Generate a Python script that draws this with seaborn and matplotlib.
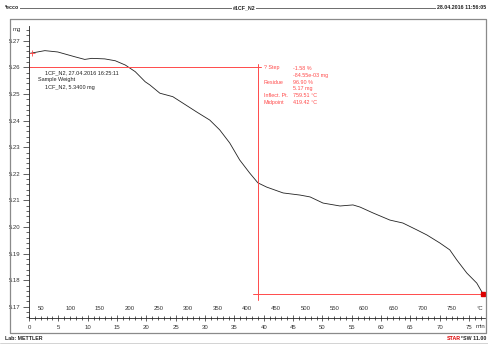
import matplotlib
matplotlib.use("Agg")
import matplotlib.pyplot as plt
import matplotlib.transforms as mtrans
from matplotlib.ticker import MultipleLocator, FormatStrFormatter
from matplotlib.lines import Line2D
import seaborn as sns
import pandas as pd

# ---- data ----
time_min = [0.2, 2.7, 4.9, 7.8, 9.5, 10.7, 12.9, 14.7, 16.4, 18.1, 19.8, 20.6,
            22.3, 24.5, 26.2, 28.6, 30.8, 32.5, 34.2, 35.9, 37.6, 39.0, 40.5,
            43.3, 46.2, 47.9, 50.1, 53.0, 55.2, 56.4, 58.6, 61.5, 63.7, 66.1,
            67.8, 70.0, 71.7, 72.9, 74.6, 76.3, 77.4]
mass_mg = [5.2653, 5.2663, 5.2658, 5.2640, 5.2630, 5.2634, 5.2632, 5.2625,
           5.2609, 5.2584, 5.2546, 5.2534, 5.2503, 5.2490, 5.2466, 5.2432,
           5.2402, 5.2365, 5.2316, 5.2252, 5.2203, 5.2166, 5.2150, 5.2128,
           5.2120, 5.2113, 5.2090, 5.2079, 5.2083, 5.2075, 5.2053, 5.2026,
           5.2015, 5.1989, 5.1970, 5.1940, 5.1914, 5.1876, 5.1827, 5.1789,
           5.1747]
temp_ticks_c = [50, 100, 150, 200, 250, 300, 350, 400, 450, 500, 550, 600,
                650, 700, 750]
time_ticks_min = [0, 5, 10, 15, 20, 25, 30, 35, 40, 45, 50, 55, 60, 65, 70, 75]
step_level_upper = 5.2601
step_level_lower = 5.1747
midpoint_c = 419.42
start_temp_c = 29.0
heating_rate = 10.0  # K/min

result_labels = ["? Step", "", "Residue", "", "Inflect. Pt.", "Midpoint"]
result_values = ["-1.58 %", "-84.55e-03 mg", "96.90 %", "5.17 mg",
                 "759.51 °C", "419.42 °C"]
info_lines = ["1CF_N2, 27.04.2016 16:25:11", "Sample Weight", "1CF_N2, 5.3400 mg"]

df = pd.DataFrame({"time": time_min, "mass": mass_mg})

# ---- figure ----
sns.set_theme(style="white")
plt.rcParams["font.family"] = ["Liberation Sans", "DejaVu Sans"]
W, H = 488, 344
fig = plt.figure(figsize=(W / 100, H / 100), dpi=100)
fig.patch.set_facecolor("white")

def fx(px):
    return px / W

def fy(py):
    return 1 - py / H

ax = fig.add_axes([fx(29), fy(318), fx(485) - fx(29), fy(26) - fy(318)])
ax.set_facecolor("none")

sns.lineplot(data=df, x="time", y="mass", ax=ax, color="#222222", lw=0.6,
             estimator=None, sort=False)

ax.set_xlim(0, 77.7)
ax.set_ylim(5.27 - (318 - 40.8) / 2660, 5.27 + (40.8 - 26) / 2660)
ax.set_xlabel("")
ax.set_ylabel("")

for s in ["top", "right"]:
    ax.spines[s].set_visible(False)
for s in ["left", "bottom"]:
    ax.spines[s].set_color("#222222")
    ax.spines[s].set_linewidth(0.6)

fs = 4.3
tc = "#333333"
ax.yaxis.set_major_locator(MultipleLocator(0.01))
ax.yaxis.set_minor_locator(MultipleLocator(0.002))
ax.yaxis.set_major_formatter(FormatStrFormatter("%.2f"))
ax.tick_params(axis="y", which="major", direction="out", length=4.5, width=0.5,
               pad=1.5, labelsize=fs, colors="#222222", labelcolor=tc, left=True)
ax.tick_params(axis="y", which="minor", direction="out", length=2, width=0.5,
               colors="#222222", left=True)

ax.set_xticks(time_ticks_min)
ax.set_xticklabels([str(t) for t in time_ticks_min])
ax.xaxis.set_minor_locator(MultipleLocator(1))
ax.tick_params(axis="x", which="major", direction="inout", length=4, width=0.5,
               pad=3, labelsize=fs, colors="#222222", labelcolor=tc, bottom=True)
ax.tick_params(axis="x", which="minor", direction="inout", length=3, width=0.5,
               colors="#222222", bottom=True)

# temperature labels inside the plot, above the axis
blend = mtrans.blended_transform_factory(ax.transData, ax.transAxes)
for T in temp_ticks_c:
    ax.text((T - start_temp_c) / heating_rate, 0.031, str(T), transform=blend,
            ha="center", va="center", fontsize=fs, color=tc)
fig.text(fx(480), fy(309), "°C", ha="center", va="center", fontsize=fs, color=tc)
fig.text(fx(475.5), fy(326.5), "min", ha="left", va="center", fontsize=fs, color=tc)
fig.text(fx(17), fy(30), "mg", ha="center", va="center", fontsize=fs, color=tc)

# red evaluation lines
red = "#ff4a4a"
t_mid = (midpoint_c - start_temp_c) / heating_rate
ax.plot([0, 39.6], [step_level_upper] * 2, color=red, lw=0.7)
ax.plot([t_mid, t_mid], [5.2613, 5.1726], color=red, lw=0.7)
ax.plot([38.2, 77.4], [step_level_lower] * 2, color=red, lw=0.7)
ax.plot([77.4], [step_level_lower], marker="s", ms=2.2, color="#dd0000")
ax.plot([0.05], [step_level_upper], marker="+", ms=5, mew=0.6, color=red)
ax.plot([0.5], [5.2655], marker="+", ms=5, mew=0.6, color=red)

# red result texts
rfs = 3.9
rows_y = [68, 75, 82, 88.5, 95.5, 102]
for lab, val, y in zip(result_labels, result_values, rows_y):
    if lab:
        fig.text(fx(264), fy(y), lab, ha="left", va="center", fontsize=rfs, color=red)
    fig.text(fx(293), fy(y), val, ha="left", va="center", fontsize=rfs, color=red)

# black info text
for (x, y), line in zip([(45, 73), (38, 80), (45, 87)], info_lines):
    fig.text(fx(x), fy(y), line, ha="left", va="center", fontsize=4.0, color="#222222")

# frame
fc = "#8a8a8a"
fig.add_artist(Line2D([fx(9.5), fx(486), fx(486), fx(9.5), fx(9.5)],
                      [fy(18.5), fy(18.5), fy(332.5), fy(332.5), fy(18.5)],
                      color=fc, lw=0.9, transform=fig.transFigure))
fig.add_artist(Line2D([fx(0), fx(488)], [fy(343), fy(343)], color="#cccccc",
                      lw=0.6, transform=fig.transFigure))

# header
hfs = 3.8
fig.add_artist(Line2D([fx(5), fx(486)], [fy(7.5), fy(7.5)], color="#555555",
                      lw=0.6, transform=fig.transFigure))
bb = dict(facecolor="white", edgecolor="none", pad=0.6)
fig.text(fx(5), fy(7.5), "*ecco", ha="left", va="center", fontsize=hfs,
         fontweight="bold", color="#222222", bbox=bb)
fig.text(fx(233), fy(7.5), "#1CF_N2", ha="left", va="center", fontsize=hfs,
         fontweight="bold", color="#222222", bbox=bb)
fig.text(fx(486), fy(7.5), "28.04.2016 11:56:05", ha="right", va="center",
         fontsize=hfs, fontweight="bold", color="#222222", bbox=bb)

# footer
fig.text(fx(5), fy(338), "Lab: METTLER", ha="left", va="center", fontsize=hfs,
         fontweight="bold", color="#222222")
fig.text(fx(486), fy(338), "SW 11.00", ha="right", va="center", fontsize=hfs,
         fontweight="bold", color="#222222")
fig.text(fx(461), fy(338), "STAR", ha="right", va="center", fontsize=hfs,
         fontweight="bold", color="#dd0000")
fig.text(fx(461.3), fy(336.5), "e", ha="left", va="center", fontsize=2.6,
         fontweight="bold", color="#222222")

fig.savefig("out.png", dpi=100, facecolor="white")
